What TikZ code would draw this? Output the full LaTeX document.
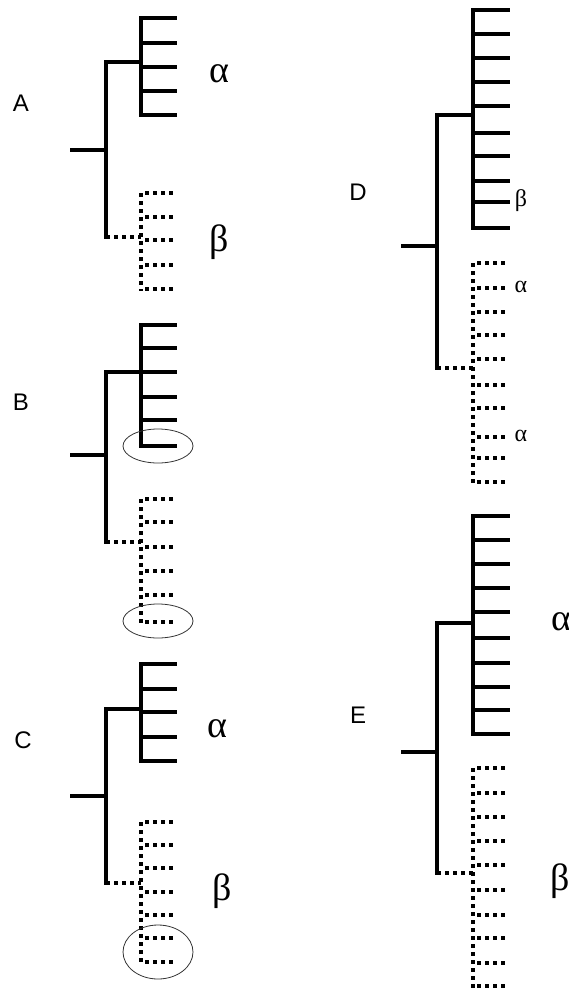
\documentclass[tikz,border=0pt]{standalone}
\usepackage{fontspec}
\setmainfont{Liberation Serif}
\newfontfamily\labfont{Liberation Sans}
\begin{document}
\begin{tikzpicture}[x=1pt,y=-1pt,
  solidline/.style={line width=4pt,line cap=rect},
  trunkline/.style={line width=3.6pt,line cap=rect},
  dotline/.style={line width=4pt,dash pattern=on 4pt off 4pt},
  ring/.style={line width=0.8pt,draw=black!80},
  panel/.style={font=\labfont\fontsize{24}{24}\selectfont},
  biggreek/.style={font=\fontsize{38}{38}\selectfont},
  smallgreek/.style={font=\fontsize{24}{24}\selectfont}]
\useasboundingbox (0,0) rectangle (569,990);
% ---------------- Panel A
\node[panel] (lA) at (21,103) {A};
\coordinate (rA) at (72,150); \coordinate (nA) at (106,150);
\coordinate (tA) at (106,62); \coordinate (bA) at (106,237);
\draw[trunkline] (rA) -- (nA);
\draw[trunkline] (tA) -- (bA);
\draw[solidline] (tA) -- (141,62);
\draw[solidline] (141,18) -- (141,115);
\foreach \y in {18,43,67,91,115} \draw[solidline] (141,\y) -- (175,\y);
\draw[dotline] (bA) -- (141,237);
\draw[dotline] (141,193) -- (141,291);
\foreach \y in {193,217,240,265,289} \draw[dotline] (145,\y) -- (175,\y);
\node[biggreek] (aA) at (219,74) {α};
\node[biggreek] (bbA) at (219,242) {β};
% ---------------- Panel B
\node[panel] (lB) at (21,402) {B};
\coordinate (rB) at (72,455); \coordinate (nB) at (106,455);
\coordinate (tB) at (106,372); \coordinate (bB) at (106,542);
\draw[trunkline] (rB) -- (nB);
\draw[trunkline] (tB) -- (bB);
\draw[solidline] (tB) -- (141,372);
\draw[solidline] (141,325) -- (141,446);
\foreach \y in {325,348,372,397,420,446} \draw[solidline] (141,\y) -- (175,\y);
\draw[dotline] (bB) -- (141,542);
\draw[dotline] (141,499) -- (141,624);
\foreach \y in {499,522,547,571,595,622} \draw[dotline] (145,\y) -- (175,\y);
\draw[ring] (158,446) ellipse [x radius=35,y radius=17];
\draw[ring] (158,621) ellipse [x radius=35,y radius=17];
% ---------------- Panel C
\node[panel] (lC) at (23,740) {C};
\coordinate (rC) at (72,796); \coordinate (nC) at (106,796);
\coordinate (tC) at (106,709); \coordinate (bC) at (106,883);
\draw[trunkline] (rC) -- (nC);
\draw[trunkline] (tC) -- (bC);
\draw[solidline] (tC) -- (141,709);
\draw[solidline] (141,664) -- (141,761);
\foreach \y in {664,689,712,737,761} \draw[solidline] (141,\y) -- (175,\y);
\draw[dotline] (bC) -- (141,883);
\draw[dotline] (141,822) -- (141,964);
\foreach \y in {822,845,868,892,915,938,962} \draw[dotline] (145,\y) -- (175,\y);
\draw[ring] (158,952) ellipse [x radius=35,y radius=27];
\node[biggreek] (aC) at (217,729) {α};
\node[biggreek] (bbC) at (222,891) {β};
% ---------------- Panel D
\node[panel] (lD) at (358,192) {D};
\coordinate (rD) at (403,246); \coordinate (nD) at (437,246);
\coordinate (tD) at (437,115); \coordinate (bD) at (437,368);
\draw[trunkline] (rD) -- (nD);
\draw[trunkline] (tD) -- (bD);
\draw[solidline] (tD) -- (473,115);
\draw[solidline] (473,10) -- (473,228);
\foreach \y in {10,34,58,82,106,133,156,181,202,228} \draw[solidline] (473,\y) -- (508,\y);
\draw[dotline] (bD) -- (473,368);
\draw[dotline] (473,263) -- (473,484);
\foreach \y in {263,288,312,335,359,385,408,437,458,482} \draw[dotline] (477,\y) -- (507,\y);
\node[smallgreek] (bbD) at (521,201) {β};
\node[smallgreek] (aD1) at (521,287) {α};
\node[smallgreek] (aD2) at (521,436) {α};
% ---------------- Panel E
\node[panel] (lE) at (358,715) {E};
\coordinate (rE) at (403,752); \coordinate (nE) at (437,752);
\coordinate (tE) at (437,623); \coordinate (bE) at (437,873);
\draw[trunkline] (rE) -- (nE);
\draw[trunkline] (tE) -- (bE);
\draw[solidline] (tE) -- (473,623);
\draw[solidline] (473,516) -- (473,734);
\foreach \y in {516,540,564,588,612,638,663,687,710,734} \draw[solidline] (473,\y) -- (508,\y);
\draw[dotline] (bE) -- (473,873);
\draw[dotline] (473,768) -- (473,988);
\foreach \y in {768,793,817,841,865,890,915,938,963,986} \draw[dotline] (477,\y) -- (507,\y);
\node[biggreek] (aE) at (561,622) {α};
\node[biggreek] (bbE) at (560,881) {β};
\end{tikzpicture}
\end{document}
